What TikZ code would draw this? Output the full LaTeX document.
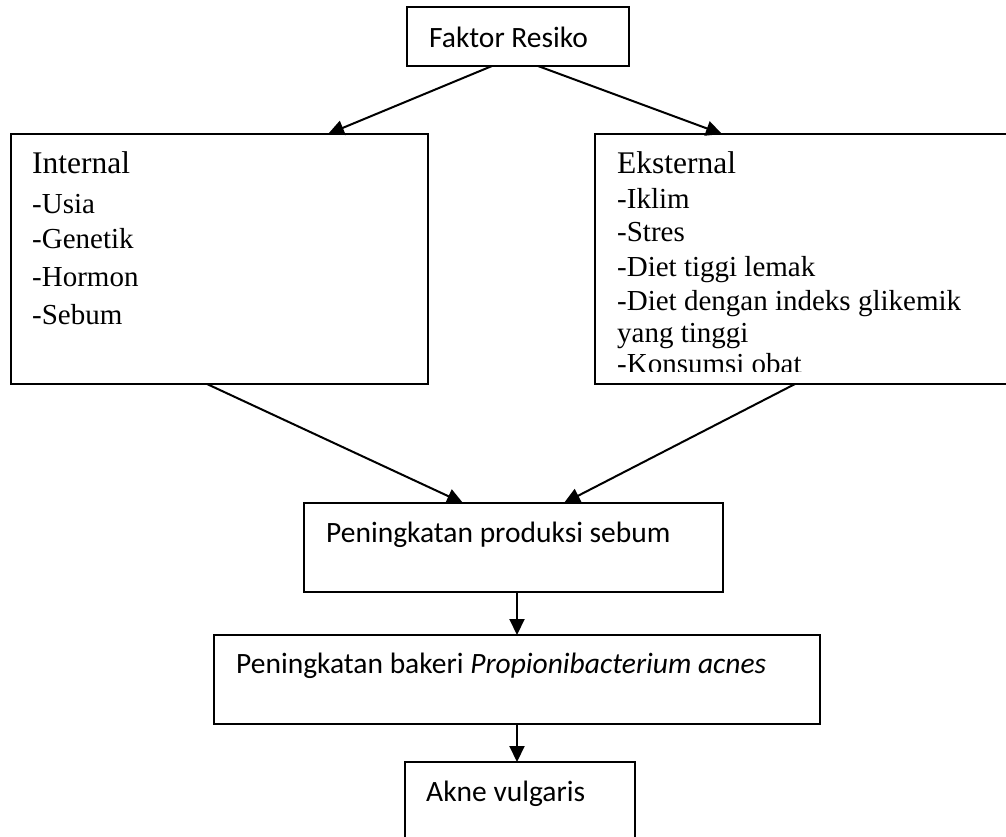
\documentclass[tikz,border=0pt]{standalone}
\usepackage{fontspec}
\setmainfont{Liberation Serif}
\newfontfamily\carlito{Carlito}
\usetikzlibrary{arrows.meta}
\begin{document}
\begin{tikzpicture}[x=1pt,y=-1pt,
  box/.style={draw, line width=1.6pt, inner sep=0pt, outer sep=0pt, anchor=north west},
  serif/.style={anchor=base west, inner sep=0pt, font=\fontsize{29}{34}\selectfont},
  head/.style={anchor=base west, inner sep=0pt, font=\fontsize{31.5}{36}\selectfont},
  sans/.style={anchor=base west, inner sep=0pt, font=\carlito\fontsize{29.5}{34}\selectfont},
  arr/.style={line width=2pt, -{Triangle[length=16pt,width=15pt]}}]
\useasboundingbox (0,0) rectangle (1006,836);
\clip (0,0) rectangle (1006,836);
% boxes
\node[box, minimum width=222pt, minimum height=59pt] (top) at (407,7) {};
\node[box, minimum width=417pt, minimum height=250pt] (int) at (11,134) {};
\node[box, minimum width=425pt, minimum height=250pt] (ext) at (595,134) {};
\node[box, minimum width=419pt, minimum height=89pt] (mid) at (304,503) {};
\node[box, minimum width=606pt, minimum height=89pt] (bak) at (214,635) {};
\node[box, minimum width=230pt, minimum height=100pt] (akne) at (405,762) {};
% texts
\node[sans] (ttop) at (429,47) {Faktor Resiko};
\node[head] (int0) at (32,173) {Internal};
\node[serif] (int1) at (32,213) {-Usia};
\node[serif] (int2) at (32,248) {-Genetik};
\node[serif] (int3) at (32,286) {-Hormon};
\node[serif] (int4) at (32,324) {-Sebum};
\begin{scope}
\clip (595,134) rectangle (1006,371);
\node[head] (ext0) at (617,173) {Eksternal};
\node[serif] (ext1) at (617,208) {-Iklim};
\node[serif] (ext2) at (617,241) {-Stres};
\node[serif] (ext3) at (617,276) {-Diet tiggi lemak};
\node[serif] (ext4) at (617,310) {-Diet dengan indeks glikemik};
\node[serif] (ext5) at (617,342) {yang tinggi};
\node[serif] (ext6) at (617,373) {-Konsumsi obat};
\end{scope}
\node[sans] (tmid) at (326,542) {Peningkatan produksi sebum};
\node[sans] (tbak) at (236,673) {Peningkatan bakeri \textit{Propionibacterium acnes}};
\node[sans] (takne) at (426,801) {Akne vulgaris};
% connectors
\draw[arr] ([xshift=-26pt]top.south) -- ([xshift=317pt]int.north west);
\draw[arr] ([xshift=20pt]top.south) -- ([xshift=127pt]ext.north west);
\draw[arr] ([xshift=196pt]int.south west) -- ([xshift=159pt]mid.north west);
\draw[arr] ([xshift=200pt]ext.south west) -- ([xshift=260pt]mid.north west);
\coordinate (c1) at ([xshift=213pt]mid.south west);
\draw[arr] (c1) -- (c1 |- bak.north);
\coordinate (c2) at ([xshift=303pt]bak.south west);
\draw[arr] (c2) -- (c2 |- akne.north);
\end{tikzpicture}
\end{document}
